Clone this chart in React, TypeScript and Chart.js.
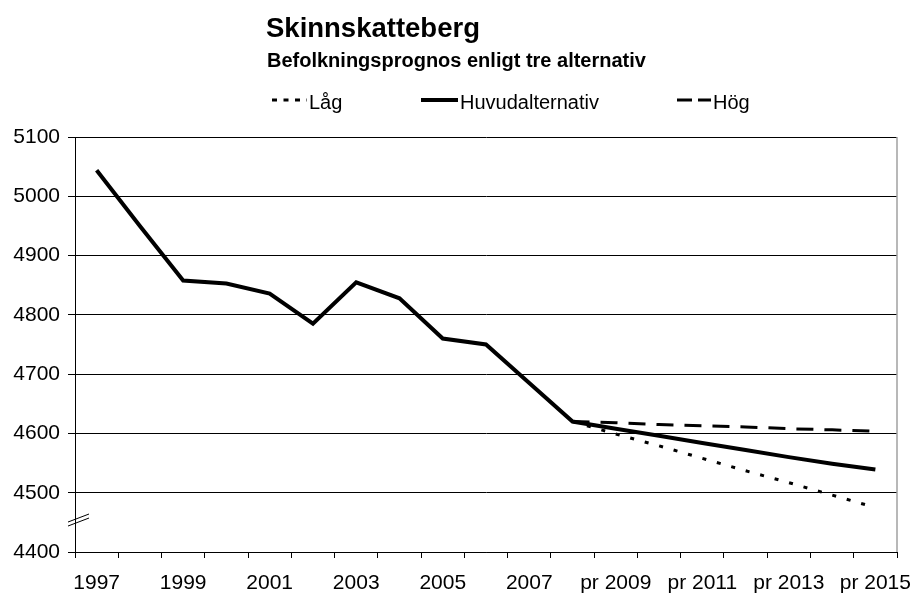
import React, { useEffect, useRef } from "react";
import { Chart, registerables } from "chart.js";

Chart.register(...registerables);

const TITLE = "Skinnskatteberg";
const SUBTITLE = "Befolkningsprognos enligt tre alternativ";

const categories = [
  "1997", "1998", "1999", "2000", "2001", "2002", "2003", "2004", "2005", "2006",
  "2007", "2008", "pr 2009", "pr 2010", "pr 2011", "pr 2012", "pr 2013", "pr 2014", "pr 2015",
];

const mainValues = [
  5044, 4950, 4858, 4853, 4836, 4785, 4855, 4828, 4760, 4750,
  4685, 4620, 4608, 4596, 4584, 4572, 4560, 4549, 4539,
];

const lowValues = [
  null, null, null, null, null, null, null, null, null, null,
  null, 4620, 4599, 4579, 4558, 4537, 4517, 4496, 4475,
];

const highValues = [
  null, null, null, null, null, null, null, null, null, null,
  null, 4620, 4618, 4615, 4613, 4611, 4608, 4606, 4604,
];

const seriesLabels = ["Låg", "Huvudalternativ", "Hög"];

const Y_MIN = 4400;
const Y_MAX = 5100;
const Y_STEP = 100;

const FONT = "'Liberation Sans', Arial, sans-serif";

const decorPlugin = {
  id: "decor",
  afterDraw(chart: any) {
    const ctx = chart.ctx;
    const area = chart.chartArea;
    ctx.save();
    // right border of plot area
    ctx.strokeStyle = "#a0a0a0";
    ctx.lineWidth = 1.5;
    ctx.beginPath();
    ctx.moveTo(area.right, area.top);
    ctx.lineTo(area.right, area.bottom);
    ctx.stroke();

    // axis break symbol
    const yScale = chart.scales.y;
    const yb = yScale.getPixelForValue(4459);
    const x0 = area.left - 7;
    const x1 = area.left + 14;
    ctx.strokeStyle = "#000";
    ctx.lineWidth = 1;
    ctx.beginPath();
    ctx.moveTo(x0, yb + 5);
    ctx.lineTo(x1, yb - 3);
    ctx.moveTo(x0, yb + 9);
    ctx.lineTo(x1, yb + 1);
    ctx.stroke();

    // titles
    ctx.fillStyle = "#000";
    ctx.textAlign = "left";
    ctx.textBaseline = "alphabetic";
    ctx.font = `bold 27.5px ${FONT}`;
    ctx.fillText(TITLE, 266, 37);
    ctx.font = `bold 20px ${FONT}`;
    ctx.fillText(SUBTITLE, 267, 67);

    // legend
    const starts = [272, 421, 677];
    const lens = [35, 37, 34];
    const dashes = [[5, 6.5], [], [15, 6]];
    const ly = 100;
    ctx.font = `20px ${FONT}`;
    chart.data.datasets.forEach((ds: any, i: number) => {
      ctx.strokeStyle = "#000";
      ctx.lineWidth = ds.borderWidth;
      ctx.setLineDash(dashes[i]);
      ctx.lineCap = "butt";
      ctx.beginPath();
      ctx.moveTo(starts[i], ly);
      ctx.lineTo(starts[i] + lens[i], ly);
      ctx.stroke();
      ctx.setLineDash([]);
      ctx.fillText(ds.label, starts[i] + lens[i] + 2, 108.5);
    });
    ctx.restore();
  },
};

export default function App() {
  const canvasRef = useRef<HTMLCanvasElement | null>(null);

  useEffect(() => {
    if (!canvasRef.current) return;
    const chart = new Chart(canvasRef.current, {
      type: "line",
      data: {
        labels: categories,
        datasets: [
          {
            label: seriesLabels[0],
            data: lowValues,
            borderColor: "#000",
            borderWidth: 3,
            borderDash: [4, 11],
            pointRadius: 0,
            fill: false,
            tension: 0,
          },
          {
            label: seriesLabels[1],
            data: mainValues,
            borderColor: "#000",
            borderWidth: 4,
            pointRadius: 0,
            fill: false,
            tension: 0,
          },
          {
            label: seriesLabels[2],
            data: highValues,
            borderColor: "#000",
            borderWidth: 3,
            borderDash: [17, 11],
            pointRadius: 0,
            fill: false,
            tension: 0,
          },
        ],
      },
      options: {
        responsive: false,
        animation: false,
        layout: { padding: { top: 137, right: 16, left: 0, bottom: 0 } },
        plugins: {
          legend: { display: false },
          title: { display: false },
          tooltip: { enabled: false },
        },
        scales: {
          x: {
            type: "category",
            offset: true,
            grid: {
              display: true,
              drawOnChartArea: false,
              drawTicks: true,
              tickLength: 6,
              offset: true,
              color: "#000",
              lineWidth: 1,
            },
            border: { display: true, color: "#000", width: 1 },
            ticks: {
              autoSkip: false,
              maxRotation: 0,
              minRotation: 0,
              padding: 13,
              color: "#000",
              font: { family: FONT, size: 21 },
              callback: (_v: any, i: number) => (i % 2 === 0 ? categories[i] : ""),
            },
            afterFit: (scale: any) => {
              scale.height = 43;
              scale.paddingLeft = 0;
              scale.paddingRight = 0;
            },
          },
          y: {
            min: Y_MIN,
            max: Y_MAX,
            grid: {
              color: "#000",
              lineWidth: 1,
              drawTicks: true,
              tickLength: 7,
            },
            border: { display: true, color: "#000", width: 1 },
            ticks: {
              stepSize: Y_STEP,
              padding: 8,
              color: "#000",
              font: { family: FONT, size: 21 },
              callback: (v: any) => String(v),
            },
            afterFit: (scale: any) => {
              scale.width = 75;
            },
          },
        },
      },
      plugins: [decorPlugin],
    });
    return () => chart.destroy();
  }, []);

  return (
    <div style={{ position: "absolute", left: 0, top: 0, width: 913, height: 595, background: "#fff" }}>
      <canvas ref={canvasRef} width={913} height={595} style={{ display: "block" }} />
    </div>
  );
}
